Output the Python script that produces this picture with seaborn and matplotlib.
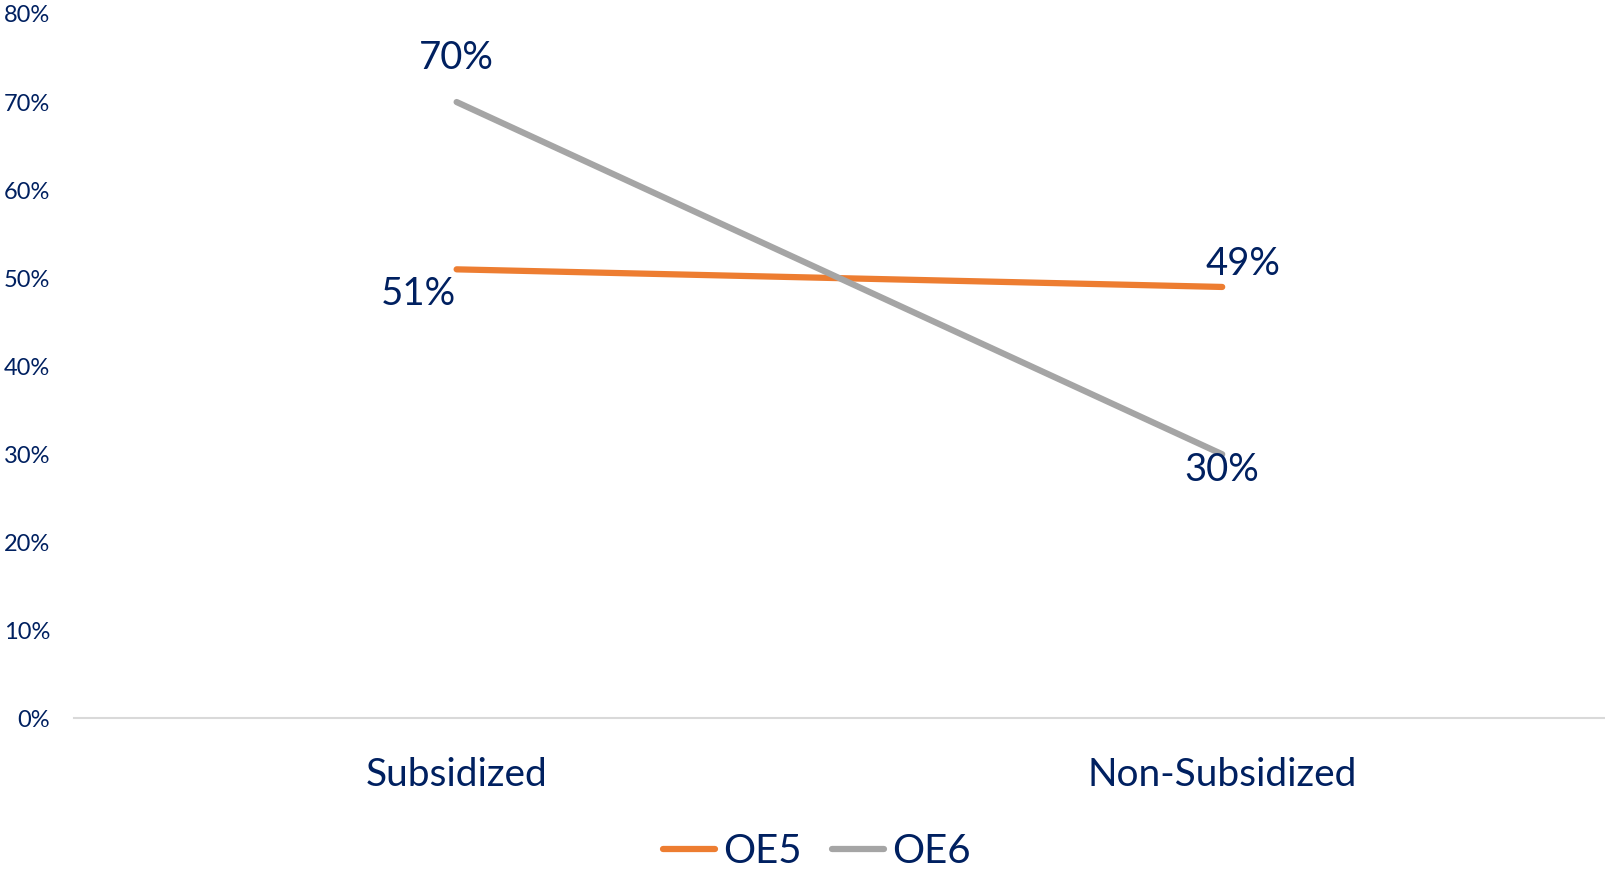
import matplotlib
matplotlib.use("Agg")
import matplotlib.pyplot as plt
import seaborn as sns
import pandas as pd
from matplotlib.ticker import PercentFormatter

categories = ["Subsidized", "Non-Subsidized"]
oe5_values = [51, 49]
oe6_values = [70, 30]
series_names = ["OE5", "OE6"]
y_ticks = [0, 10, 20, 30, 40, 50, 60, 70, 80]

TEXT = "#002060"
COLORS = {"OE5": "#ED7D31", "OE6": "#A5A5A5"}

df = pd.DataFrame({
    "category": categories * 2,
    "x": [0, 1] * 2,
    "value": oe5_values + oe6_values,
    "series": [series_names[0]] * 2 + [series_names[1]] * 2,
})

sns.set_theme(style="white")
plt.rcParams["font.family"] = ["Lato", "DejaVu Sans"]

fig = plt.figure(figsize=(16.05, 8.74), dpi=100)
ax = fig.add_axes([0.046, 0.178, 0.954, 0.806])

sns.lineplot(data=df, x="x", y="value", hue="series", palette=COLORS,
             linewidth=4.5, ax=ax, legend=False, sort=False)
for line in ax.lines:
    line.set_solid_capstyle("round")

ax.set_xlim(-0.5, 1.5)
ax.set_ylim(0, 80)
ax.set_xticks([0, 1])
ax.set_xticklabels(categories)
ax.set_yticks(y_ticks)
ax.yaxis.set_major_formatter(PercentFormatter(decimals=0))
ax.tick_params(axis="y", labelsize=17, labelcolor=TEXT, length=0, pad=17)
ax.tick_params(axis="x", labelsize=28, labelcolor=TEXT, length=0, pad=28)
ax.set_xlabel("")
ax.set_ylabel("")
for side in ["top", "right", "left"]:
    ax.spines[side].set_visible(False)
ax.spines["bottom"].set_color("#D9D9D9")
ax.spines["bottom"].set_linewidth(1.5)
ax.grid(False)

# value labels: (series values, offsets in pixels per point)
label_specs = [
    (oe5_values, [(-38, -25), (21, 23)]),
    (oe6_values, [(0, 44), (0, -16)]),
]
for values, offsets in label_specs:
    for xi, (v, off) in enumerate(zip(values, offsets)):
        ax.annotate(f"{v}%", (xi, v), xytext=off, textcoords="offset pixels",
                    ha="center", va="center", fontsize=27.5, color=TEXT)

handles = [plt.Line2D([0], [0], color=COLORS[s], lw=4.5, solid_capstyle="round")
           for s in series_names]
leg = fig.legend(handles, series_names, loc="center", bbox_to_anchor=(0.509, 0.026),
                 ncol=2, frameon=False, fontsize=29, labelcolor=TEXT,
                 handlelength=1.3, handletextpad=0.2, columnspacing=0.75)

fig.savefig("out.png", dpi=100)
